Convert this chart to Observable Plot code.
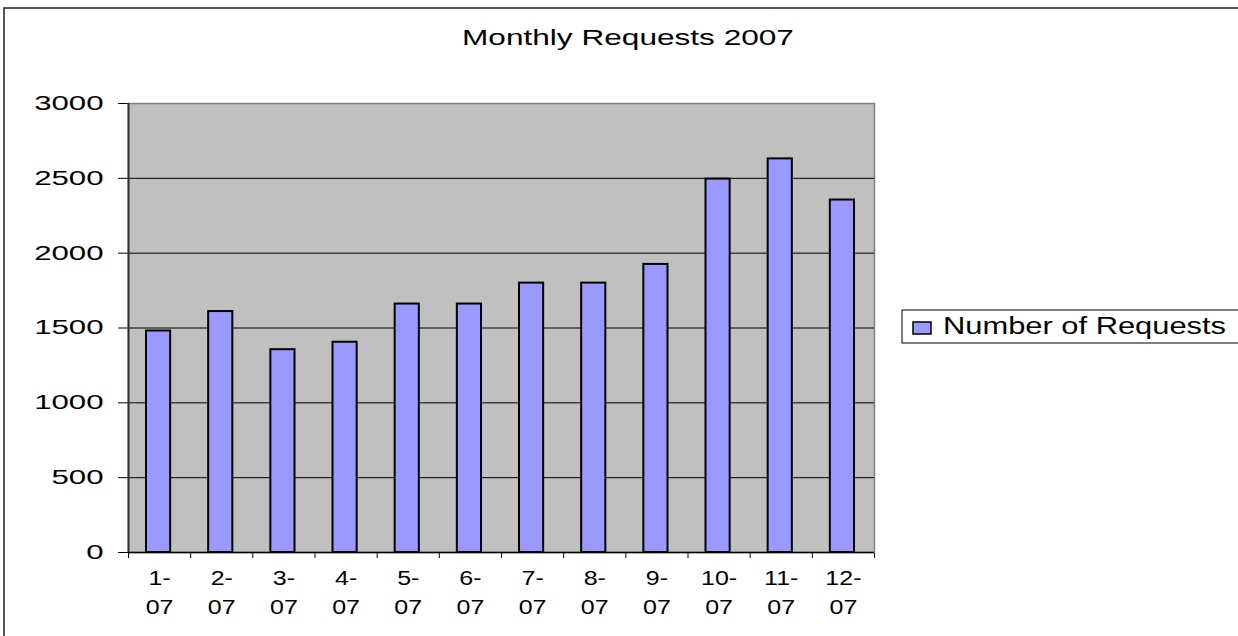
<!DOCTYPE html>
<html><head><meta charset="utf-8">
<script src="https://cdn.jsdelivr.net/npm/d3@7"></script>
<script src="https://cdn.jsdelivr.net/npm/@observablehq/plot@0.6"></script>
<style>html,body{margin:0;padding:0;background:#fff;overflow:hidden}</style>
</head><body><div id="chart"></div>
<script>
const title = "Monthly Requests 2007";
const seriesName = "Number of Requests";
const months = ["1-07","2-07","3-07","4-07","5-07","6-07","7-07","8-07","9-07","10-07","11-07","12-07"];
const requests = [1480,1610,1355,1405,1660,1660,1800,1800,1925,2495,2630,2355];
const yTicks = [0,500,1000,1500,2000,2500,3000];

const data = months.map((m,i)=>({month:m, index:i, value:requests[i]}));
const slots = d3.range(months.length + 1);
const FONT = "'Liberation Sans', Arial, sans-serif";

const svg = Plot.plot({
  width:1238, height:636,
  marginLeft:128, marginRight:364, marginTop:103, marginBottom:84,
  style:{fontFamily:FONT, background:"transparent", color:"#000"},
  x:{domain:[0, months.length], ticks:slots, tickSize:6, tickFormat:()=>"", label:null},
  y:{domain:[0,3000], ticks:yTicks, tickSize:10, tickFormat:()=>"", label:null},
  marks:[
    Plot.frame({fill:"#C0C0C0", stroke:"#808080", strokeWidth:1.5}),
    Plot.ruleY(yTicks.filter(v=>v>0 && v<3000), {stroke:"#000", strokeWidth:1}),
    Plot.ruleX([0], {stroke:"#303030", strokeWidth:2}),
    Plot.ruleY([0], {stroke:"#000", strokeWidth:1.5}),
    Plot.rectY(data, {x1:"index", x2:d=>d.index+1, y:"value", insetLeft:18, insetRight:20,
      fill:"#9999FF", stroke:"#000", strokeWidth:2}),
    Plot.text(yTicks, {x:0, y:d=>d, text:d=>String(d), textAnchor:"end", dx:-25,
      fontSize:20}),
    Plot.text(data, {x:d=>d.index+0.5, y:0, text:d=>d.month.replace("-","-\n"), dy:38,
      fontSize:20.5, lineHeight:1.37, lineAnchor:"middle"})
  ]
});

function stretchEl(el, s){
  const t = el.getAttribute("transform");
  if (t) el.setAttribute("transform", t + ` scale(${s},1)`);
  else {
    const x = +el.getAttribute("x") || 0;
    el.setAttribute("transform", `translate(${x},0) scale(${s},1) translate(${-x},0)`);
  }
}
const root = d3.select(svg);
root.selectAll("text").each(function(){
  const content = this.textContent.trim();
  if (!content) return;
  if (this.querySelector("tspan")) stretchEl(this, 1.22);       // month labels
  else if (/^\d+$/.test(content)) stretchEl(this, 1.56);         // value labels
});

// outer chart border (top and left visible)
root.append("rect").attr("x",4).attr("y",8).attr("width",1300).attr("height",700)
  .attr("fill","none").attr("stroke","#222").attr("stroke-width",1.5);

// title
root.append("text").attr("transform","translate(628,45) scale(1.47,1)")
  .attr("text-anchor","middle").attr("font-family",FONT).attr("font-size",21.5)
  .attr("fill","#000").text(title);

// legend
const lg = root.append("g");
lg.append("rect").attr("x",902).attr("y",310).attr("width",400).attr("height",33)
  .attr("fill","#fff").attr("stroke","#000").attr("stroke-width",1);
lg.append("rect").attr("x",913).attr("y",322).attr("width",18).attr("height",12)
  .attr("fill","#9999FF").attr("stroke","#000").attr("stroke-width",1.5);
lg.append("text").attr("transform","translate(943,334) scale(1.26,1)")
  .attr("text-anchor","start").attr("font-family",FONT).attr("font-size",24.5)
  .attr("fill","#000").text(seriesName);

document.getElementById("chart").appendChild(svg);
</script>
</body></html>
